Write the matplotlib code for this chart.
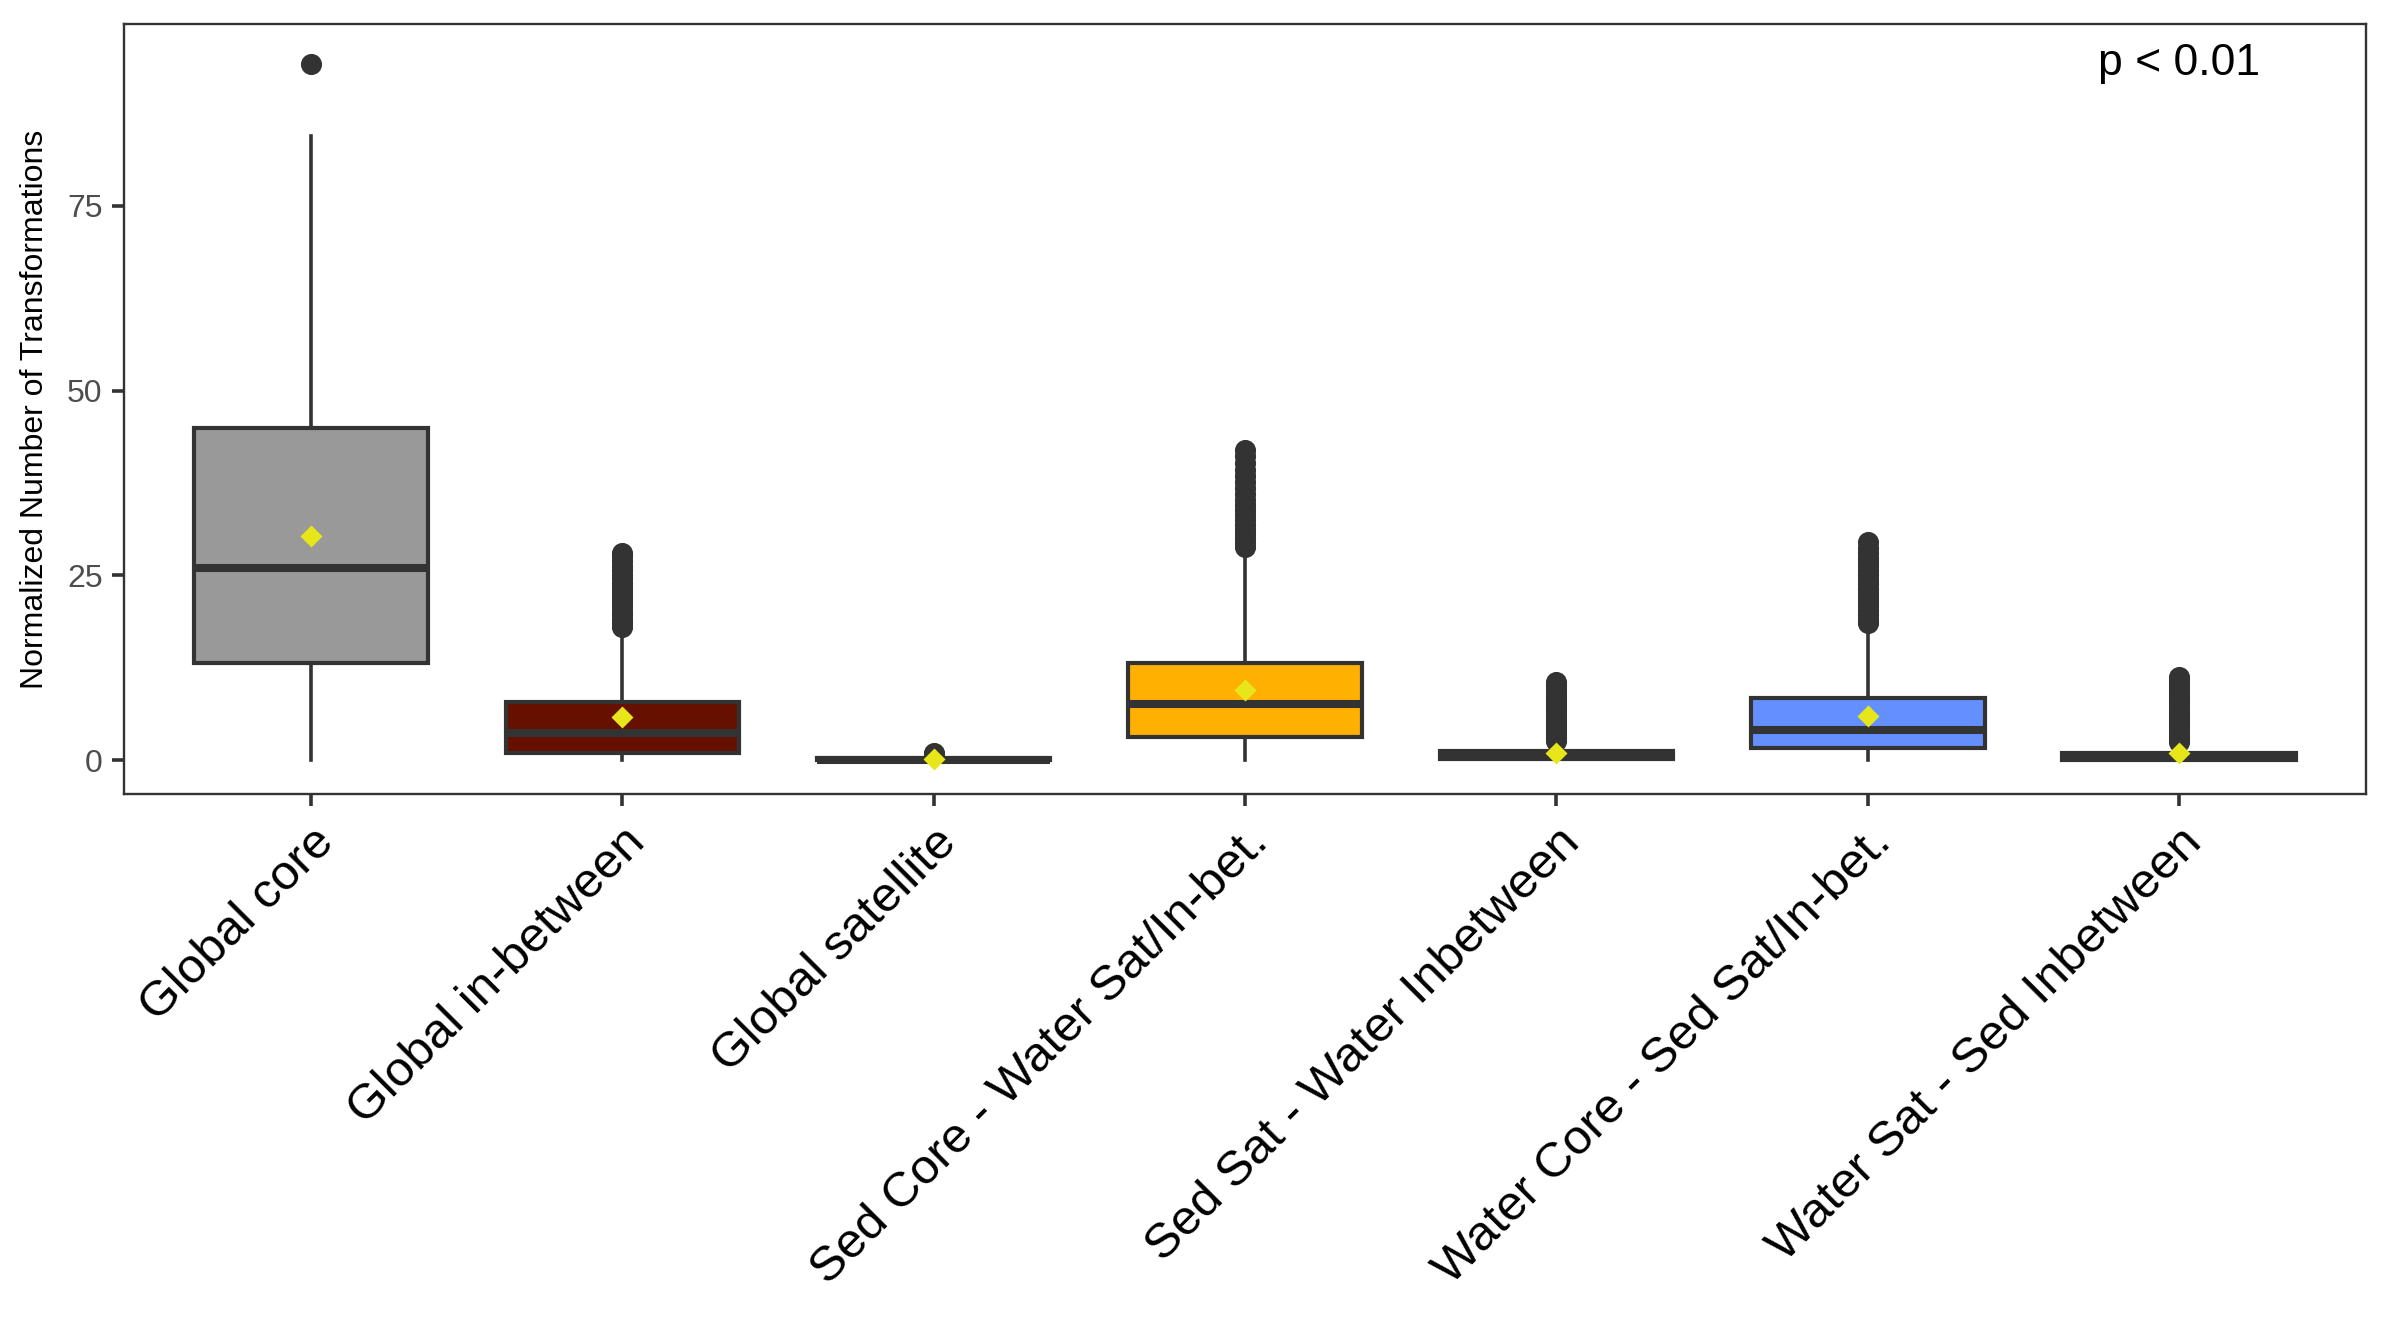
import matplotlib.pyplot as plt

plt.rcParams['font.family'] = ['Liberation Sans', 'DejaVu Sans']

categories = ["Global core", "Global in-between", "Global satellite",
              "Sed Core - Water Sat/In-bet.", "Sed Sat - Water Inbetween",
              "Water Core - Sed Sat/In-bet.", "Water Sat - Sed Inbetween"]
fill_colors = ["#999999", "#661100", "#333333", "#FFB000", "#333333", "#648FFF", "#333333"]

q1 = [13.2, 1.0, 0.0, 3.1, 0.1, 1.6, 0.05]
median = [26.0, 3.7, 0.05, 7.6, 0.5, 4.1, 0.4]
q3 = [45.0, 7.8, 0.3, 13.2, 1.2, 8.4, 1.0]
whisker_low = [0.0, 0.0, 0.0, 0.0, 0.0, 0.0, 0.0]
whisker_high = [84.5, 17.5, 0.6, 28.3, 2.4, 18.0, 2.3]
means = [30.3, 5.8, 0.1, 9.5, 1.0, 6.0, 1.0]

outliers = [
    [94.2],
    [18.0, 18.5, 19.0, 19.6, 20.1, 20.7, 21.2, 21.8, 22.3, 22.9, 23.4, 24.0, 24.6,
     25.1, 25.7, 26.3, 27.0, 27.6, 28.0],
    [0.8, 0.9],
    [28.8, 29.4, 30.0, 30.6, 31.2, 31.8, 32.5, 33.1, 33.8, 34.5, 35.2, 36.0, 36.8,
     37.6, 38.4, 39.3, 40.2, 41.1, 42.0],
    [2.6, 3.0, 3.4, 3.8, 4.2, 4.6, 5.0, 5.4, 5.8, 6.2, 6.6, 7.0, 7.4, 7.8, 8.2,
     8.7, 9.2, 9.7, 10.2, 10.5],
    [18.5, 19.0, 19.6, 20.2, 20.8, 21.4, 22.0, 22.6, 23.2, 23.8, 24.4, 25.0, 25.6,
     26.2, 26.8, 27.4, 28.0, 28.7, 29.5],
    [2.5, 2.9, 3.3, 3.7, 4.1, 4.5, 4.9, 5.3, 5.7, 6.1, 6.5, 6.9, 7.3, 7.7, 8.1,
     8.6, 9.1, 9.6, 10.2, 10.7, 11.2],
]

stats = []
for i, name in enumerate(categories):
    stats.append(dict(label=name, q1=q1[i], med=median[i], q3=q3[i],
                      whislo=whisker_low[i], whishi=whisker_high[i],
                      mean=means[i], fliers=outliers[i]))

fig = plt.figure(figsize=(11.95, 6.685), dpi=200)
ax = fig.add_axes([0.0519, 0.4061, 0.9381, 0.5759])

dark = "#333333"
bp = ax.bxp(stats, positions=range(1, 8), widths=0.75, patch_artist=True,
            showmeans=True, showcaps=False,
            boxprops=dict(edgecolor=dark, linewidth=1.5),
            medianprops=dict(color=dark, linewidth=2.9, solid_capstyle='butt'),
            whiskerprops=dict(color=dark, linewidth=1.3),
            flierprops=dict(marker='o', markerfacecolor=dark, markeredgecolor=dark,
                            markersize=6.6),
            meanprops=dict(marker='D', markerfacecolor='#E6E61A', markeredgecolor='none',
                           markersize=5.5))
for patch, c in zip(bp['boxes'], fill_colors):
    patch.set_facecolor(c)

ax.set_xlim(0.4, 7.6)
ax.set_ylim(-4.6, 99.6)
ax.set_yticks([0, 25, 50, 75])
ax.set_xticks(range(1, 8))
ax.set_xticklabels(categories, rotation=45, ha='right', va='top',
                   rotation_mode='anchor', fontsize=17.8, color='black')
ax.tick_params(axis='y', labelsize=11.5, labelcolor='#4D4D4D', color=dark,
               length=4.2, width=1.3)
ax.tick_params(axis='x', color=dark, length=4.2, width=1.3, pad=5)
ax.set_ylabel("Normalized Number of Transformations", fontsize=11.5, labelpad=6)
for s in ax.spines.values():
    s.set_color(dark)
    s.set_linewidth(0.85)

ax.text(7, 94.3, "p < 0.01", ha='center', va='center', fontsize=16)

fig.savefig("out.png", dpi=200)
